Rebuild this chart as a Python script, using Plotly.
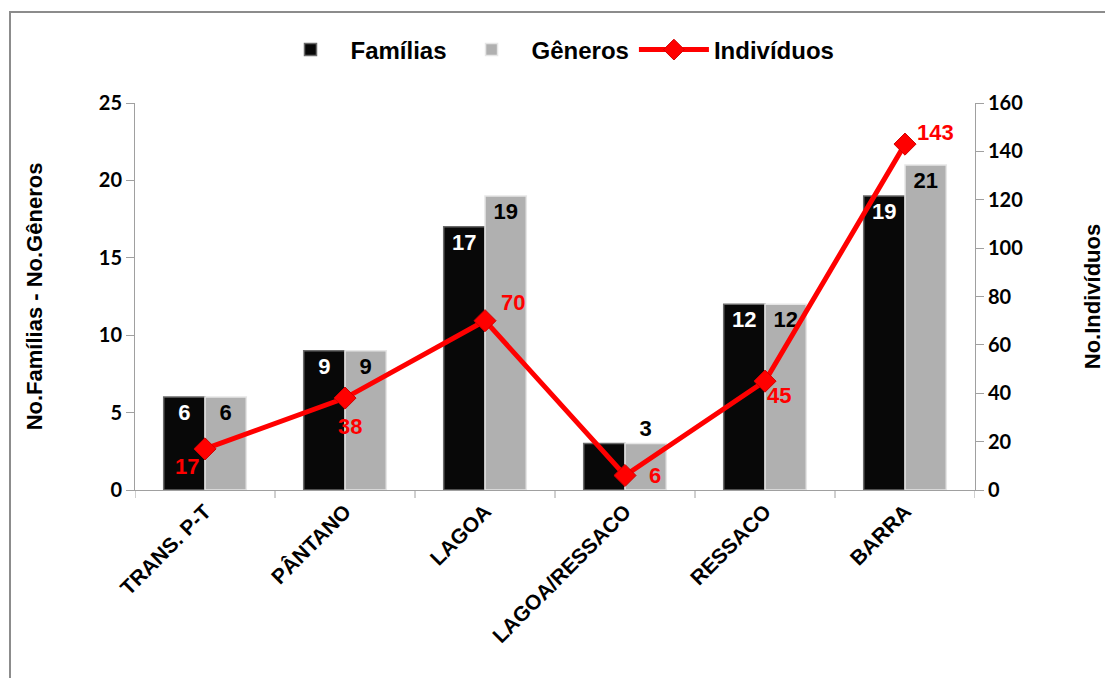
import plotly.graph_objects as go

categories = ["TRANS. P-T", "PÂNTANO", "LAGOA", "LAGOA/RESSACO", "RESSACO", "BARRA"]
familias = [6, 9, 17, 3, 12, 19]
generos = [6, 9, 19, 3, 12, 21]
individuos = [17, 38, 70, 6, 45, 143]

left_ticks = [0, 5, 10, 15, 20, 25]
right_ticks = [0, 20, 40, 60, 80, 100, 120, 140, 160]

fam_text = [str(v) if v > 5 else "" for v in familias]
gen_pos = ["inside" if v > 5 else "outside" for v in generos]
# label offsets (pixels) for the Indivíduos values
ind_shift = [(-18, -18), (5, -28), (28, 18), (30, 0), (14, -14), (30, 12)]

BOLD = dict(family="Liberation Sans, Arial", weight="bold")
TICKFONT = dict(family="Lato, Liberation Sans, Arial", size=20, color="#000000", weight="bold")

fig = go.Figure()
fig.add_trace(go.Bar(
    x=categories, y=familias, name="Famílias",
    marker=dict(color="#080808", line=dict(color="#6a6a6a", width=1.5)),
    text=fam_text, textposition="inside", insidetextanchor="end",
    textfont=dict(BOLD, size=22, color="#ffffff"),
    textangle=0, cliponaxis=False,
))
fig.add_trace(go.Bar(
    x=categories, y=generos, name="Gêneros",
    marker=dict(color="#b0b0b0", line=dict(color="#e6e6e6", width=1.5)),
    text=[str(v) for v in generos], textposition=gen_pos, insidetextanchor="end",
    textfont=dict(BOLD, size=22, color="#000000"),
    textangle=0, cliponaxis=False,
))
fig.add_trace(go.Scatter(
    x=categories, y=individuos, name="Indivíduos", yaxis="y2",
    mode="lines+markers",
    line=dict(color="#ff0000", width=5),
    marker=dict(symbol="diamond", size=17, color="#ff0000", line=dict(color="#d00000", width=1)),
    cliponaxis=False,
))

W, H = 1105, 678
L, R, T, B = 135, 130, 103, 188
pw, ph = W - L - R, H - T - B

def px(x):
    return (x - L) / pw

def py(y):
    return (H - B - y) / ph

annotations = [
    dict(x=c, y=v, xref="x", yref="y2", text=str(v), showarrow=False,
         xshift=s[0], yshift=s[1], font=dict(BOLD, size=22, color="#ff0000"))
    for c, v, s in zip(categories, individuos, ind_shift)
]

fig.update_layout(
    width=W, height=H,
    margin=dict(l=L, r=R, t=T, b=B, autoexpand=False),
    paper_bgcolor="#ffffff", plot_bgcolor="#ffffff",
    barmode="group", bargap=0.41, bargroupgap=0.0,
    showlegend=True,
    legend=dict(orientation="h", x=0.5, xanchor="center", y=py(50), yanchor="middle",
                font=dict(BOLD, size=24, color="#000000"),
                itemwidth=70, tracegroupgap=30),
    xaxis=dict(
        automargin=False,
        showgrid=False, showline=True, linecolor="#a0a0a0", linewidth=1,
        ticks="outside", ticklen=0, tickangle=-45,
        tickfont=dict(BOLD, size=21, color="#000000"),
        range=[-0.5, 5.5],
    ),
    yaxis=dict(
        automargin=False,
        range=[0, 25], tickvals=left_ticks, showgrid=False, zeroline=False,
        showline=True, linecolor="#a0a0a0", linewidth=1,
        ticks="outside", ticklen=8, tickcolor="#a0a0a0",
        tickfont=TICKFONT,
        title=dict(text="No.Famílias - No.Gêneros", standoff=50,
                   font=dict(BOLD, size=22, color="#000000")),
    ),
    yaxis2=dict(
        automargin=False,
        range=[0, 160], tickvals=right_ticks, overlaying="y", side="right",
        showgrid=False, zeroline=False,
        showline=True, linecolor="#a0a0a0", linewidth=1,
        ticks="outside", ticklen=8, tickcolor="#a0a0a0",
        tickfont=TICKFONT,
        title=dict(text="No.Indivíduos", standoff=72,
                   font=dict(BOLD, size=22, color="#000000")),
    ),
    annotations=annotations,
    shapes=[
        dict(type="rect", xref="paper", yref="paper",
             x0=px(10), x1=px(1120), y0=py(700), y1=py(12),
             line=dict(color="#8c8c8c", width=2), fillcolor="rgba(0,0,0,0)", layer="below"),
    ] + [
        dict(type="line", xref="x", yref="paper", x0=i + 0.5, x1=i + 0.5,
             y0=0, y1=py(498), line=dict(color="#a0a0a0", width=1))
        for i in range(-1, len(categories))
    ],
)

fig.write_html("out.html")
